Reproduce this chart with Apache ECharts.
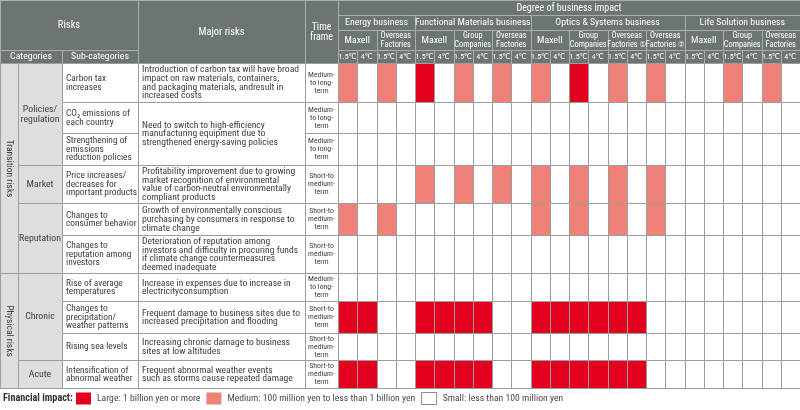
<!DOCTYPE html>
<html><head><meta charset="utf-8">
<script src="https://cdn.jsdelivr.net/npm/echarts@6/dist/echarts.min.js"></script>
<style>html,body{margin:0;padding:0;background:#fff}#c{width:800px;height:410px}</style>
</head><body><div id="c"></div><script>
// ---------------- DATA ----------------
const businesses = ["Energy business","Functional Materials business","Optics & Systems business","Life Solution business"];
const entities = [
  ["Maxell","Overseas\nFactories"],
  ["Maxell","Group\nCompanies","Overseas\nFactories"],
  ["Maxell","Group\nCompanies","Overseas\nFactories ①","Overseas\nFactories ②"],
  ["Maxell","Group\nCompanies","Overseas\nFactories"]
];
const scenarios = ["1.5℃","4℃"];
const riskGroups = ["Transition risks","Physical risks"];
const riskGroupSpans = [6,4];
const categories = ["Policies/\nregulation","Market","Reputation","Chronic","Acute"];
const categorySpans = [3,1,2,3,1];
const subCategories = [
  "Carbon tax\nincreases",
  "CO₂ emissions of\neach country",
  "Strengthening of\nemissions\nreduction policies",
  "Price increases/\ndecreases for\nimportant products",
  "Changes to\nconsumer behavior",
  "Changes to\nreputation among\ninvestors",
  "Rise of average\ntemperatures",
  "Changes to\nprecipitation/\nweather patterns",
  "Rising sea levels",
  "Intensification of\nabnormal weather"
];
const majorRisks = [
  "Introduction of carbon tax will have broad\nimpact on raw materials, containers,\nand packaging materials, andresult in\nincreased costs",
  "Need to switch to high-efficiency\nmanufacturing equipment due to\nstrengthened energy-saving policies",
  "Profitability improvement due to growing\nmarket recognition of environmental\nvalue of carbon-neutral environmentally\ncompliant products",
  "Growth of environmentally conscious\npurchasing by consumers in response to\nclimate change",
  "Deterioration of reputation among\ninvestors and difficulty in procuring funds\nif climate change countermeasures\ndeemed inadequate",
  "Increase in expenses due to increase in\nelectricityconsumption",
  "Frequent damage to business sites due to\nincreased precipitation and flooding",
  "Increasing chronic damage to business\nsites at low altitudes",
  "Frequent abnormal weather events\nsuch as storms cause repeated damage"
];
const majorRiskSpans = [1,2,1,1,1,1,1,1,1];
const timeFrames = [
  "Medium-\nto long-\nterm","Medium-\nto long-\nterm","Medium-\nto long-\nterm",
  "Short-to\nmedium-\nterm","Short-to\nmedium-\nterm","Short-to\nmedium-\nterm",
  "Medium-\nto long-\nterm",
  "Short-to\nmedium-\nterm","Short-to\nmedium-\nterm","Short-to\nmedium-\nterm"
];
// impact level per row: 0 = small, 1 = medium, 2 = large (24 columns each)
const impact = [
  [1,0,1,0, 2,0,1,0,1,0, 1,0,2,0,1,0,1,0, 0,0,1,0,1,0],
  [0,0,0,0, 0,0,0,0,0,0, 0,0,0,0,0,0,0,0, 0,0,0,0,0,0],
  [0,0,0,0, 0,0,0,0,0,0, 0,0,0,0,0,0,0,0, 0,0,0,0,0,0],
  [0,0,0,0, 1,0,1,0,1,0, 1,0,1,0,1,0,1,0, 0,0,0,0,0,0],
  [1,0,1,0, 0,0,0,0,0,0, 1,0,1,0,1,0,1,0, 0,0,0,0,0,0],
  [0,0,0,0, 0,0,0,0,0,0, 0,0,0,0,0,0,0,0, 0,0,0,0,0,0],
  [0,0,0,0, 0,0,0,0,0,0, 0,0,0,0,0,0,0,0, 0,0,0,0,0,0],
  [2,2,0,0, 2,2,2,2,0,0, 2,2,2,2,2,2,0,0, 0,0,0,0,0,0],
  [0,0,0,0, 0,0,0,0,0,0, 0,0,0,0,0,0,0,0, 0,0,0,0,0,0],
  [2,2,0,0, 2,2,2,2,0,0, 2,2,2,2,2,2,0,0, 0,0,0,0,0,0]
];
const impactTitle = "Financial impact:";
const impactLabels = ["Small: less than 100 million yen","Medium: 100 million yen to less than 1 billion yen","Large: 1 billion yen or more"];
const headerLeft = {risks:"Risks", categories:"Categories", sub:"Sub-categories", major:"Major risks", time:"Time\nframe", degree:"Degree of business impact"};

// ---------------- LAYOUT / STYLE ----------------
const FONT = "'Liberation Sans Narrow','Roboto Condensed','DejaVu Sans Condensed','Noto Sans',sans-serif";
const HEAD_H = [15,15,20,13];
const ROW_H = [39,31,32,38,32,38,28,32,27,28];
const LEFT_W = [18,44,76,167,33];
const COLORS = ['#ffffff','#ef8179','#e2001c'];
const HEAD_BG = '#6d7476', HEAD_LINE = '#a9aeaf', BODY_LINE = '#9d9d9d', CAT_BG = '#dedede', TXT = '#404040';

const headTop = []; {let a=0; HEAD_H.forEach(h=>{headTop.push(a); a+=h;});}
const HEAD_TOTAL = HEAD_H.reduce((a,b)=>a+b,0);
const rowTop = []; let TABLE_BOTTOM; {let a=HEAD_TOTAL; ROW_H.forEach(h=>{rowTop.push(a); a+=h;}); TABLE_BOTTOM=a;}
const leftEdge = [0]; LEFT_W.forEach(w=>leftEdge.push(leftEdge[leftEdge.length-1]+w));
const LEFT_TOTAL = leftEdge[leftEdge.length-1];
const nCols = impact[0].length;
const colIds = Array.from({length:nCols},(_,i)=>'c'+i);

function T(x,y,text,o){
  o=o||{};
  return {type:'text', x:x, y:y, rotation:o.rot||0, silent:true,
    style:{text:text, fill:o.fill||TXT, fontFamily:FONT, fontSize:o.size||10, fontWeight:o.weight||'normal',
      lineHeight:o.lh||9, align:o.align||'center', verticalAlign:'middle'}};
}

// ---------- header cells over the data columns ----------
const headCells = [];
headCells.push({c0:0,c1:nCols-1,hr:0,text:headerLeft.degree,size:10,lh:10});
{let c=0; businesses.forEach((b,bi)=>{const span=entities[bi].length*scenarios.length; headCells.push({c0:c,c1:c+span-1,hr:1,text:b,size:9.8,lh:10}); c+=span;});}
{let c=0; entities.forEach(list=>list.forEach(e=>{headCells.push({c0:c,c1:c+scenarios.length-1,hr:2,text:e,size:e.indexOf('\n')>=0?8.3:9.8,lh:8.2}); c+=scenarios.length;}));}
for(let c=0;c<nCols;c++) headCells.push({c0:c,c1:c,hr:3,text:scenarios[c%scenarios.length],size:8,lh:9});

// ---------- left table cells ----------
const leftCells = [];
leftCells.push({x0:leftEdge[0],x1:leftEdge[3],y0:0,y1:headTop[3],text:headerLeft.risks,fill:HEAD_BG,stroke:HEAD_LINE,color:'#fff',size:10.5});
leftCells.push({x0:leftEdge[0],x1:leftEdge[2],y0:headTop[3],y1:HEAD_TOTAL,text:headerLeft.categories,fill:HEAD_BG,stroke:HEAD_LINE,color:'#fff',size:9.8});
leftCells.push({x0:leftEdge[2],x1:leftEdge[3],y0:headTop[3],y1:HEAD_TOTAL,text:headerLeft.sub,fill:HEAD_BG,stroke:HEAD_LINE,color:'#fff',size:9.8});
leftCells.push({x0:leftEdge[3],x1:leftEdge[4],y0:0,y1:HEAD_TOTAL,text:headerLeft.major,fill:HEAD_BG,stroke:HEAD_LINE,color:'#fff',size:10.5});
leftCells.push({x0:leftEdge[4],x1:leftEdge[5],y0:0,y1:HEAD_TOTAL,text:headerLeft.time,fill:HEAD_BG,stroke:HEAD_LINE,color:'#fff',size:10,lh:10});
{let r=0; riskGroups.forEach((g,i)=>{const s=riskGroupSpans[i]; leftCells.push({x0:leftEdge[0],x1:leftEdge[1],y0:rowTop[r],y1:rowTop[r+s-1]+ROW_H[r+s-1],text:g,fill:CAT_BG,stroke:BODY_LINE,rot:-Math.PI/2,size:9.5}); r+=s;});}
{let r=0; categories.forEach((g,i)=>{const s=categorySpans[i]; leftCells.push({x0:leftEdge[1],x1:leftEdge[2],y0:rowTop[r],y1:rowTop[r+s-1]+ROW_H[r+s-1],text:g,fill:CAT_BG,stroke:BODY_LINE,size:9.8,lh:9.5}); r+=s;});}
subCategories.forEach((t,r)=>leftCells.push({x0:leftEdge[2],x1:leftEdge[3],y0:rowTop[r],y1:rowTop[r]+ROW_H[r],text:t,fill:'#fff',stroke:BODY_LINE,align:'left',size:9.4,lh:8.6}));
{let r=0; majorRisks.forEach((t,i)=>{const s=majorRiskSpans[i]; leftCells.push({x0:leftEdge[3],x1:leftEdge[4],y0:rowTop[r],y1:rowTop[r+s-1]+ROW_H[r+s-1],text:t,fill:'#fff',stroke:BODY_LINE,align:'left',size:9.6,lh:8.7}); r+=s;});}
timeFrames.forEach((t,r)=>leftCells.push({x0:leftEdge[4],x1:leftEdge[5],y0:rowTop[r],y1:rowTop[r]+ROW_H[r],text:t,fill:'#fff',stroke:BODY_LINE,size:7.8,lh:8}));

function crispRect(x0,y0,x1,y1){
  const a=Math.round(x0), b=Math.round(y0), c=Math.round(x1), d=Math.round(y1);
  return {x:a+0.5,y:b+0.5,width:c-a,height:d-b};
}

// ---------- series ----------
const levelSeries = [2,1,0].map(lv=>{
  const data=[];
  impact.forEach((row,r)=>row.forEach((v,c)=>{ if(v===lv) data.push([c,r,v]); }));
  return {
    type:'custom', name:impactLabels[lv], xAxisIndex:0, yAxisIndex:0, clip:false,
    itemStyle:{color:COLORS[lv]},
    data:data,
    renderItem:function(params,api){
      const c=api.value(0), r=api.value(1), v=api.value(2);
      const w=api.size([1,0])[0];
      const p0=api.coord([c,rowTop[r]]), p1=api.coord([c,rowTop[r]+ROW_H[r]]);
      return {type:'rect', shape:crispRect(p0[0]-w/2,p0[1],p0[0]+w/2,p1[1]),
        style:{fill:COLORS[v], stroke:BODY_LINE, lineWidth:1}};
    }
  };
});

const headSeries = {
  type:'custom', xAxisIndex:0, yAxisIndex:0, clip:false, silent:true,
  data: headCells.map(h=>[h.c0,h.c1,h.hr]),
  renderItem:function(params,api){
    const h=headCells[params.dataIndex];
    const w=api.size([1,0])[0];
    const a=api.coord([h.c0,headTop[h.hr]]), b=api.coord([h.c1,headTop[h.hr]+HEAD_H[h.hr]]);
    const x0=a[0]-w/2, x1=b[0]+w/2, y0=a[1], y1=b[1];
    return {type:'group', children:[
      {type:'rect', shape:crispRect(x0,y0,x1,y1), style:{fill:HEAD_BG, stroke:HEAD_LINE, lineWidth:1}},
      T((x0+x1)/2,(y0+y1)/2+0.5,h.text,{fill:'#fff',size:h.size,lh:h.lh})
    ]};
  }
};

const leftSeries = {
  type:'custom', xAxisIndex:1, yAxisIndex:1, clip:false, silent:true,
  data: leftCells.map(c=>[c.x0,c.x1,c.y0,c.y1]),
  renderItem:function(params,api){
    const c=leftCells[params.dataIndex];
    const a=api.coord([api.value(0),api.value(2)]), b=api.coord([api.value(1),api.value(3)]);
    const tx = c.align==='left' ? a[0]+4 : (a[0]+b[0])/2;
    return {type:'group', children:[
      {type:'rect', shape:crispRect(a[0],a[1],b[0],b[1]), style:{fill:c.fill, stroke:c.stroke, lineWidth:1}},
      T(tx,(a[1]+b[1])/2+0.5,c.text,{fill:c.color||TXT,size:c.size,lh:c.lh||9,align:c.align||'center',rot:c.rot})
    ]};
  }
};

const chart = echarts.init(document.getElementById('c'), null, {renderer:'canvas'});
chart.setOption({
  animation:false,
  backgroundColor:'#fff',
  title:{text:impactTitle,left:3,top:393,padding:0,textStyle:{fontFamily:FONT,fontSize:10.2,fontWeight:'bold',color:'#333'}},
  legend:{left:76,top:392,padding:0,itemWidth:15,itemHeight:12,itemGap:6,selectedMode:false,
    textStyle:{fontFamily:FONT,fontSize:9.7,color:'#4a4a4a',padding:[0,0,0,1]},
    data:[
      {name:impactLabels[2],icon:'rect',itemStyle:{color:COLORS[2],borderWidth:0}},
      {name:impactLabels[1],icon:'rect',itemStyle:{color:COLORS[1],borderWidth:0}},
      {name:impactLabels[0],icon:'rect',itemStyle:{color:'#fff',borderColor:'#8a8a8a',borderWidth:1}}
    ]},
  grid:[
    {left:LEFT_TOTAL,right:0,top:0,height:TABLE_BOTTOM},
    {left:0,width:LEFT_TOTAL,top:0,height:TABLE_BOTTOM}
  ],
  xAxis:[
    {type:'category',gridIndex:0,data:colIds,show:false,boundaryGap:true},
    {type:'value',gridIndex:1,min:0,max:LEFT_TOTAL,show:false}
  ],
  yAxis:[
    {type:'value',gridIndex:0,min:0,max:TABLE_BOTTOM,inverse:true,show:false},
    {type:'value',gridIndex:1,min:0,max:TABLE_BOTTOM,inverse:true,show:false}
  ],
  series:[headSeries,leftSeries].concat(levelSeries)
});
</script></body></html>
